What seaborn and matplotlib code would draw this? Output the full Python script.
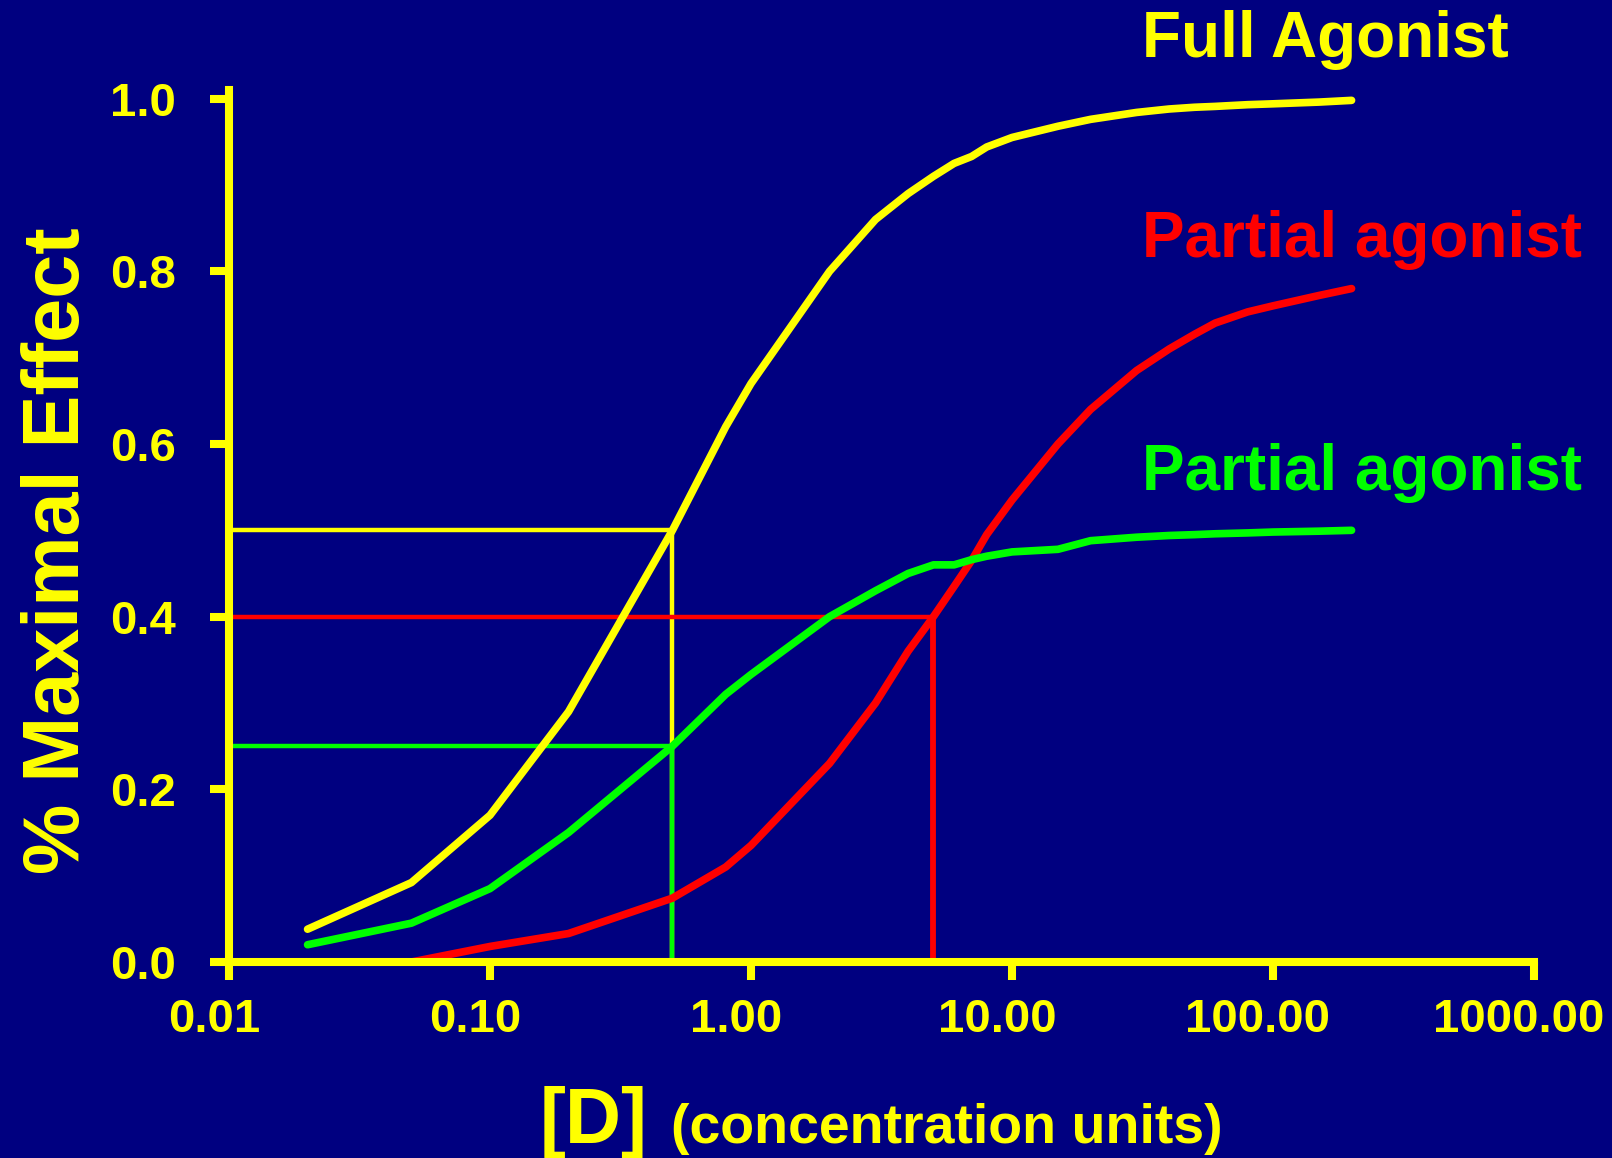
import seaborn as sns
import matplotlib.pyplot as plt
import matplotlib.transforms as mtransforms
import pandas as pd

sns.set_style("white")
plt.rcParams["font.family"] = ["Liberation Sans", "DejaVu Sans"]
plt.rcParams["font.weight"] = "bold"

# values
conc = [0.02, 0.05, 0.1, 0.2, 0.5, 0.8, 1, 2, 3, 4, 5, 6, 7, 8, 10, 15, 20,
        30, 40, 50, 60, 80, 100, 150, 200]
full_agonist = [0.038, 0.092, 0.17, 0.29, 0.50, 0.62, 0.67, 0.80, 0.86, 0.89,
                0.91, 0.925, 0.933, 0.944, 0.955, 0.968, 0.976, 0.984, 0.988,
                0.99, 0.991, 0.993, 0.994, 0.996, 0.998]
partial_red = [0.0, 0.0, 0.018, 0.033, 0.074, 0.11, 0.135, 0.23, 0.30, 0.36,
               0.40, 0.435, 0.465, 0.495, 0.535, 0.60, 0.64, 0.685, 0.71, 0.727,
               0.74, 0.753, 0.76, 0.772, 0.78]
partial_green = [0.02, 0.045, 0.085, 0.15, 0.25, 0.31, 0.333, 0.40, 0.43,
                 0.45, 0.46, 0.46, 0.466, 0.47, 0.475, 0.478, 0.488, 0.492,
                 0.494, 0.495, 0.496, 0.497, 0.498, 0.499, 0.5]

# EC50 guide lines: (concentration, half-max effect)
guide_conc = [0.5, 5, 0.5]
guide_level = [0.5, 0.4, 0.25]

series = ["Full Agonist", "Partial agonist (red)", "Partial agonist (green)"]
colors = ["#FFFF00", "#FF0000", "#00FF00"]
labels = ["Full Agonist", "Partial agonist", "Partial agonist"]
label_y = [57, 257, 490]  # baselines in pixels from top

bg = "#000080"
yellow = "#FFFF00"

df = pd.DataFrame({
    "conc": conc * 3,
    "effect": full_agonist + partial_red + partial_green,
    "drug": [series[0]] * len(conc) + [series[1]] * len(conc) + [series[2]] * len(conc),
})

fig = plt.figure(figsize=(16.12, 11.58), dpi=100, facecolor=bg)
ax = fig.add_axes([229 / 1612, 1 - 962 / 1158, 1305 / 1612, 872 / 1158])
ax.set_facecolor(bg)

# guide lines
for c, lvl, col in zip(guide_conc, guide_level, colors):
    ax.plot([0.01, c], [lvl, lvl], color=col, lw=3.2, solid_capstyle="butt", zorder=1.5)
    ax.plot([c, c], [0, lvl], color=col, lw=4.2 if col == "#FF0000" else 3.2,
            solid_capstyle="butt", zorder=1.5)

sns.lineplot(data=df, x="conc", y="effect", hue="drug", palette=colors,
             hue_order=series, linewidth=5.5, legend=False, ax=ax, zorder=2)

ax.set_xscale("log")
ax.set_xlim(0.01, 1000)
ax.set_ylim(0, 1.01)
ax.set_xticks([0.01, 0.1, 1, 10, 100, 1000])
ax.set_xticklabels(["0.01", "0.10", "1.00", "10.00", "100.00", "1000.00"])
ax.minorticks_off()
ax.set_yticks([0, 0.2, 0.4, 0.6, 0.8, 1.0])
ax.set_yticklabels(["0.0", "0.2", "0.4", "0.6", "0.8", "1.0"])
ax.set_xlabel("")
ax.set_ylabel("")

for s in ["top", "right"]:
    ax.spines[s].set_visible(False)
for s in ["left", "bottom"]:
    ax.spines[s].set_color(yellow)
    ax.spines[s].set_linewidth(5.8)
    ax.spines[s].set_capstyle("projecting")

ax.tick_params(axis="both", colors=yellow, width=5.8, labelsize=34,
               direction="out", bottom=True, left=True)
ax.tick_params(axis="y", length=14, pad=24)
ax.tick_params(axis="x", length=13, pad=13)
for lab in ax.get_xticklabels():
    lab.set_fontweight("bold")
    lab.set_transform(lab.get_transform() +
                      mtransforms.ScaledTranslation(-0.15, 0, fig.dpi_scale_trans))
for lab in ax.get_yticklabels():
    lab.set_fontweight("bold")

# curve names
for txt, col, yb in zip(labels, colors, label_y):
    fig.text(1142 / 1612, 1 - yb / 1158, txt, color=col, fontsize=46,
             fontweight="bold", ha="left", va="baseline")

# axis titles
fig.text(21 / 1612, 1 - 551 / 1158, "% Maximal Effect", color=yellow,
         fontsize=57, fontweight="bold", rotation=90, ha="left", va="center")
fig.text(540 / 1612, 1 - 1143 / 1158, "[D]", color=yellow, fontsize=56,
         fontweight="bold", ha="left", va="baseline")
fig.text(671 / 1612, 1 - 1143 / 1158, "(concentration units)", color=yellow,
         fontsize=40, fontweight="bold", ha="left", va="baseline")

fig.savefig("out.png", dpi=100, facecolor=bg)
